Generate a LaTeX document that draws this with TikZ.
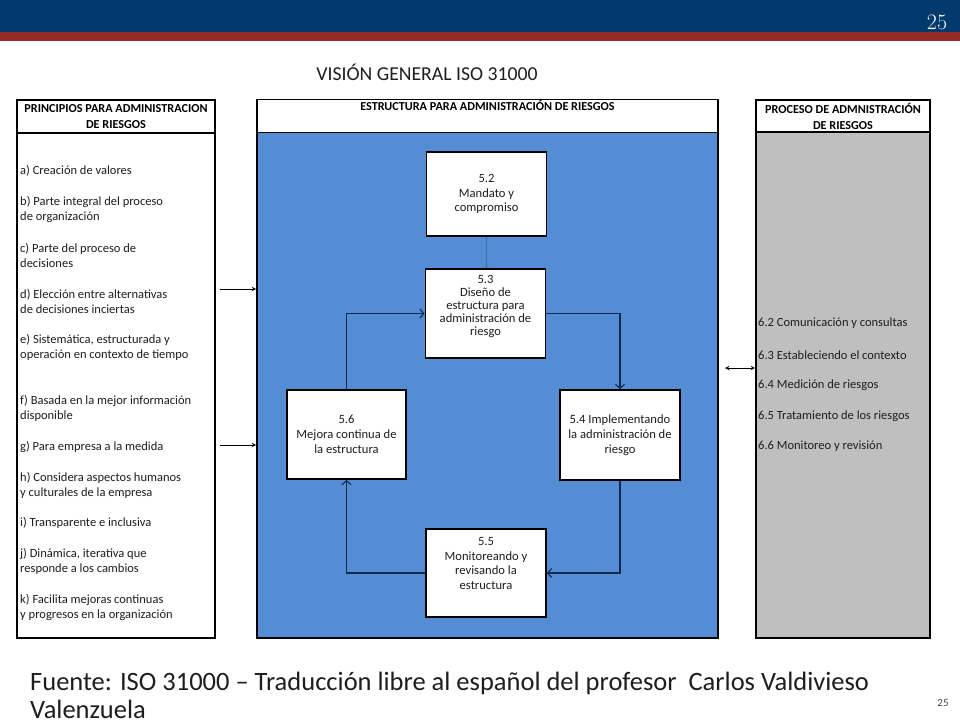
\documentclass[tikz,border=0pt]{standalone}
\usepackage{fontspec}
\setsansfont{Carlito}
\renewcommand{\familydefault}{\sfdefault}
\usetikzlibrary{calc}
\usetikzlibrary{arrows.meta}
\definecolor{bannerblue}{HTML}{023A6E}
\definecolor{bannerred}{HTML}{962B26}
\definecolor{panelblue}{HTML}{548DD4}
\definecolor{panelgrey}{HTML}{BFBFBF}
\definecolor{flownavy}{HTML}{10294D}
\definecolor{linkblue}{HTML}{3F6FA8}
\definecolor{textgrey}{HTML}{1E1E1E}
\tikzset{
	headstyle/.style={rectangle,draw=black,line width=1.6pt,fill=white,align=center,inner sep=1pt,font=\fontsize{12.2}{16}\selectfont\bfseries},
	panelstyle/.style={rectangle,draw=black,line width=1.6pt},
	itemstyle/.style={anchor=west,align=left,inner sep=0pt,text=textgrey,font=\fontsize{12.5}{15}\selectfont},
	stepstyle/.style={rectangle,draw=black,line width=1.8pt,fill=white,align=center,minimum width=120pt,minimum height=88pt,inner sep=1pt,text=textgrey,font=\fontsize{12.6}{14.8}\selectfont},
	flowstyle/.style={draw=flownavy,line width=1.1pt,-{Straight Barb[length=4pt,width=9pt]}}
}

\begin{document}
\begin{tikzpicture}[x=1pt,y=-1pt]
		\useasboundingbox (0,0) rectangle (960,720);
		\fill[white] (0,0) rectangle (960,720);
		\fill[bannerblue] (0,0) rectangle (960,32);
		\fill[bannerred] (0,32) rectangle (960,41);
		\node[text=white,font=\rmfamily\fontsize{22}{24}\selectfont] (pgtop) at (937,22) {25};
		\node[text=textgrey,font=\fontsize{19.7}{22}\selectfont] (title) at (427,72) {VISIÓN GENERAL ISO 31000};
		% panels
		\node[panelstyle,fill=white,minimum width=198pt,minimum height=505pt] (lbody) at (116,385.5) {};
		\node[panelstyle,fill=panelblue,minimum width=461pt,minimum height=506pt] (mbody) at (487.5,385) {};
		\node[panelstyle,fill=panelgrey,minimum width=174pt,minimum height=506pt] (rbody) at (843,385) {};
		\node[headstyle,minimum width=198pt,minimum height=33pt] (lhead) at (116,116.5) {PRINCIPIOS PARA ADMINISTRACION\\DE RIESGOS};
		\node[headstyle,minimum width=461pt,minimum height=32pt] (mhead) at (487.5,116) {ESTRUCTURA PARA ADMINISTRACIÓN DE RIESGOS\\\strut};
		\node[headstyle,minimum width=174pt,minimum height=32pt] (rhead) at (843,116) {PROCESO DE ADMNISTRACIÓN\\DE RIESGOS};
		% principles
		\node[itemstyle] (pa) at (20,171) {a) Creación de valores};
		\node[itemstyle] (pb) at (20,209) {b) Parte integral del proceso\\de organización};
		\node[itemstyle] (pc) at (20,255.5) {c) Parte del proceso de\\decisiones};
		\node[itemstyle] (pd) at (20,301) {d) Elección entre alternativas\\de decisiones inciertas};
		\node[itemstyle] (pe) at (20,347) {e) Sistemática, estructurada y\\operación en contexto de tiempo};
		\node[itemstyle] (pf) at (20,408) {f) Basada en la mejor información\\disponible};
		\node[itemstyle] (pg) at (20,447) {g) Para empresa a la medida};
		\node[itemstyle] (ph) at (20,485.5) {h) Considera aspectos humanos\\y culturales de la empresa};
		\node[itemstyle] (pi) at (20,523) {i) Transparente e inclusiva};
		\node[itemstyle] (pj) at (20,561.5) {j) Dinámica, iterativa que\\responde a los cambios};
		\node[itemstyle] (pk) at (20,607.5) {k) Facilita mejoras continuas\\y progresos en la organización};
		% process
		\node[itemstyle] (q62) at (758,323) {6.2 Comunicación y consultas};
		\node[itemstyle] (q63) at (758,355) {6.3 Estableciendo el contexto};
		\node[itemstyle] (q64) at (758,385) {6.4 Medición de riesgos};
		\node[itemstyle] (q65) at (758,416) {6.5 Tratamiento de los riesgos};
		\node[itemstyle] (q66) at (758,446) {6.6 Monitoreo y revisión};
		% framework steps
		\node[stepstyle,minimum height=84pt] (s52) at (486.5,194) {5.2\\Mandato y\\compromiso};
		\node[stepstyle,minimum height=89pt,font=\fontsize{12.6}{13}\selectfont] (s53) at (485.5,313.5) {5.3\\Diseño de\\estructura para\\administración de\\riesgo\\\strut};
		\node[stepstyle,minimum width=119pt,minimum height=89pt] (s56) at (346.5,434.5) {5.6\\Mejora continua de\\la estructura};
		\node[stepstyle,minimum height=90pt] (s54) at (620,435) {5.4 Implementando\\la administración de\\riesgo};
		\node[stepstyle] (s55) at (486,573) {5.5\\Monitoreando y\\revisando la\\estructura\\\strut};
		\draw[linkblue,line width=0.5pt,-to] (s52.south)--(s52.south |- s53.north);
		\draw[flowstyle] (s53.east) -| (s54.north);
		\draw[flowstyle] (s54.south) |- (s55.east);
		\draw[flowstyle] (s55.west) -| (s56.south);
		\draw[flowstyle] (s56.north) |- (s53.west);
		% links between panels
		\coordinate (l1) at (220,289);
		\coordinate (l2) at (220,445);
		\coordinate (r1) at (725,368);
		\draw[line width=1pt,-stealth] (l1)--(l1 -| mbody.west);
		\draw[line width=1pt,-stealth] (l2)--(l2 -| mbody.west);
		\draw[line width=1pt,stealth-stealth] (r1)--(r1 -| rbody.west);
		% source
		\node[anchor=north west,align=left,inner sep=0pt,text=textgrey,font=\fontsize{26.5}{28}\selectfont] (src) at (30,672) {Fuente: ISO 31000 -- Traducción libre al español del profesor\ \ Carlos Valdivieso\\Valenzuela};
		\node[text=textgrey!80,font=\fontsize{11}{12}\selectfont] (pgbot) at (943,703) {25};
\end{tikzpicture}
\end{document}
